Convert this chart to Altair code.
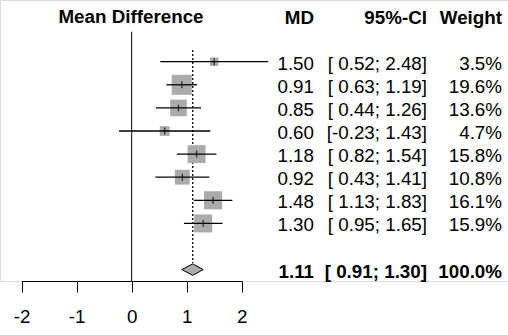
import altair as alt
import pandas as pd

# ---- data ----
md = [1.50, 0.91, 0.85, 0.60, 1.18, 0.92, 1.48, 1.30]
lower = [0.52, 0.63, 0.44, -0.23, 0.82, 0.43, 1.13, 0.95]
upper = [2.48, 1.19, 1.26, 1.43, 1.54, 1.41, 1.83, 1.65]
weight = [3.5, 19.6, 13.6, 4.7, 15.8, 10.8, 16.1, 15.9]
pooled_md = 1.11
pooled_lower = 0.91
pooled_upper = 1.30
pooled_weight = 100.0
ticks = [-2, -1, 0, 1, 2]
headers = ["Mean Difference", "MD", "95%-CI", "Weight"]

FONT = "Liberation Sans"
FS = 18.8
GRAY = "#ABABAB"

rows = list(range(1, len(md) + 1))
df = pd.DataFrame({
    "row": rows,
    "md": md,
    "lower": lower,
    "upper": upper,
    "weight": weight,
    "md_lab": [f"{v:.2f}" for v in md],
    "ci_lab": [("[" + (f"{l:.2f}" if l < 0 else f" {l:.2f}") + f"; {u:.2f}]") for l, u in zip(lower, upper)],
    "w_lab": [f"{w:.1f}%" for w in weight],
})
SUM_ROW = len(md) + 2
summ = pd.DataFrame({
    "row": [SUM_ROW],
    "md": [pooled_md],
    "md_lab": [f"{pooled_md:.2f}"],
    "ci_lab": [f"[ {pooled_lower:.2f}; {pooled_upper:.2f}]"],
    "w_lab": [f"{pooled_weight:.1f}%"],
})
HALF = 0.247
diamond = pd.DataFrame({
    "x": [pooled_lower, pooled_md, pooled_upper],
    "y": [SUM_ROW, SUM_ROW - HALF, SUM_ROW],
    "y2": [SUM_ROW, SUM_ROW + HALF, SUM_ROW],
})
head = pd.DataFrame({"row": [-1] * len(headers), "lab": headers})
zero_df = pd.DataFrame({"v": [0]})
pool_df = pd.DataFrame({"v": [pooled_md]})

xs = alt.Scale(domain=[-2, 2], range=[21.7, 241.7], nice=False, zero=False)
ys = alt.Scale(domain=[-1, SUM_ROW], range=[15.5, 269.6], nice=False, zero=False)
xaxis = alt.Axis(values=ticks, labelExpr="'' + datum.value", tickSize=11, labelPadding=15,
                 domainColor="black", tickColor="black", domainWidth=1, tickWidth=1,
                 labelFont=FONT, labelFontSize=FS, labelColor="black", grid=False,
                 labelFlush=False, labelOverlap=False, title=None)


def X(field):
    return alt.X(field, type="quantitative", scale=xs, axis=xaxis)


def Y(field):
    return alt.Y(field, type="quantitative", scale=ys, axis=None)


zero_line = alt.Chart(zero_df).mark_rule(color="black", strokeWidth=1).encode(
    x=X("v"), y=alt.value(31.7), y2=alt.value(281))
pool_line = alt.Chart(pool_df).mark_rule(color="black", strokeWidth=1.3, strokeDash=[2, 2]).encode(
    x=X("v"), y=alt.value(50), y2=alt.value(263))
squares = alt.Chart(df).mark_square(color=GRAY, opacity=1, filled=True).encode(
    x=X("md"), y=Y("row"),
    size=alt.Size("weight:Q", scale=alt.Scale(domain=[0, 19.6], range=[0, 400]), legend=None))
ci = alt.Chart(df).mark_rule(color="black", strokeWidth=1.3).encode(
    x=X("lower"), x2="upper", y=Y("row"))
est = alt.Chart(df).mark_tick(color="black", orient="vertical", size=7, thickness=1.3).encode(
    x=X("md"), y=Y("row"))
dia = alt.Chart(diamond).mark_area(fill=GRAY, stroke="black", strokeWidth=1, opacity=1).encode(
    x=X("x"), y=Y("y"), y2="y2")


def col(data, field, xpx, align, bold=False, dy=8):
    return alt.Chart(data).mark_text(font=FONT, fontSize=FS, align=align, baseline="alphabetic",
                                     dy=dy, color="black",
                                     fontWeight="bold" if bold else "normal").encode(
        x=alt.value(xpx), y=Y("row"), text=f"{field}:N")


texts = [
    col(df, "md_lab", 314, "right"),
    col(df, "ci_lab", 427, "right"),
    col(df, "w_lab", 502, "right"),
    col(summ, "md_lab", 314, "right", True),
    col(summ, "ci_lab", 427, "right", True),
    col(summ, "w_lab", 502, "right", True),
]

hdr = []
for lab, xpx, align, dy in [(headers[0], 131, "center", 7.2), (headers[1], 314, "right", 8.5),
                             (headers[2], 427, "right", 8.5), (headers[3], 502, "right", 8.5)]:
    hdr.append(alt.Chart(head[head.lab == lab]).mark_text(
        font=FONT, fontSize=FS, fontWeight="bold", align=align, baseline="alphabetic",
        dy=dy, color="black").encode(x=alt.value(xpx), y=Y("row"), text="lab:N"))

chart = alt.layer(zero_line, pool_line, squares, ci, est, dia, *texts, *hdr).properties(
    width=508, height=281, padding={"left": 0, "top": 0, "right": 0, "bottom": 54},
    autosize=alt.AutoSizeParams(type="none")
).configure_view(stroke=None).configure(background="white")

chart.save("out.html", embed_options={"renderer": "svg", "actions": False})
